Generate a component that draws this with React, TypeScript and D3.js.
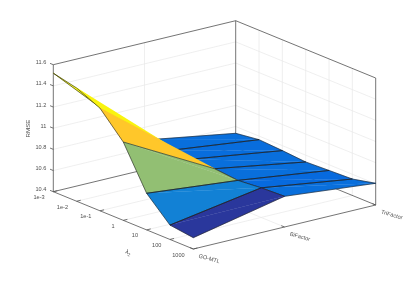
import React from 'react'
import * as d3 from 'd3'

const lambdas = ['1e-3', '1e-2', '1e-1', '1', '10', '100', '1000']
const methods = ['GO-MTL', 'BiFactor', 'TriFactor']
const zTicks = [10.4, 10.6, 10.8, 11, 11.2, 11.4, 11.6]

// RMSE per lambda, one list per method
const goMtl = [11.52, 11.47, 11.37, 11.14, 10.746, 10.536, 10.507]
const biFactor = [10.68, 10.67, 10.68, 10.68, 10.66, 10.68, 10.69]
const triFactor = [10.536, 10.566, 10.553, 10.536, 10.546, 10.555, 10.605]
const rmse = [goMtl, biFactor, triFactor]

const parula = ['#352a87', '#0363e1', '#1485d4', '#06a7c6', '#38b99e', '#92bf73', '#e0ba50', '#ffc62b', '#f9f20f', '#f9fb0e']
const parulaAt = [0, 0.125, 0.25, 0.375, 0.5, 0.625, 0.75, 0.85, 0.94, 1]

// orthographic box: each data axis moves the point along its own screen direction
const lamX = d3.scaleLinear().domain([0, 6]).range([53.3, 193.3])
const lamY = d3.scaleLinear().domain([0, 6]).range([191.7, 249])
const methX = d3.scaleLinear().domain([0, 2]).range([0, 182.4])
const methY = d3.scaleLinear().domain([0, 2]).range([0, -44])
const zY = d3.scaleLinear().domain([10.4, 11.6]).range([0, -127])

type P = [number, number]
const project = (l: number, m: number, z: number): P => [lamX(l) + methX(m), lamY(l) + methY(m) + zY(z)]

const [zMin, zMax] = d3.extent(rmse.flat()) as [number, number]
const color = d3.scaleLinear<string>()
  .domain(parulaAt.map(t => zMin + t * (zMax - zMin)))
  .range(parula)

const line = d3.line()
const path = (pts: P[]) => line(pts) as string

const gridColor = '#e8e8e8'
const boxColor = '#505050'
const edgeColor = '#1c1c1c'
const textColor = '#4d4d4d'
const font = '"Liberation Sans", Arial, sans-serif'

const lamIdx = d3.range(lambdas.length)
const methIdx = d3.range(methods.length)
const zLo = zTicks[0]
const zHi = zTicks[zTicks.length - 1]
const lastL = lambdas.length - 1
const lastM = methods.length - 1
const steepFacets = 3 // GO-MTL facets that fold over, their far edges stay hidden

const corners = (l: number, m: number): P[] => [
  project(l, m, rmse[m][l]),
  project(l + 1, m, rmse[m][l + 1]),
  project(l + 1, m + 1, rmse[m + 1][l + 1]),
  project(l, m + 1, rmse[m + 1][l]),
]

function Facet({ l, m }: { l: number; m: number }) {
  const [a, b, c, d] = corners(l, m)
  const fill = color(rmse[m][l])
  return (
    <g>
      <path d={path([a, b, c]) + 'Z'} fill={fill} stroke={fill} strokeWidth={0.3} />
      <path d={path([a, c, d]) + 'Z'} fill={fill} stroke={fill} strokeWidth={0.3} />
    </g>
  )
}

function Surface() {
  const flat = d3.range(lastL)
  const steep = d3.range(steepFacets)
  const rest = d3.range(steepFacets, lastL)
  return (
    <g>
      {flat.map(l => <Facet key={l} l={l} m={1} />)}
      {flat.map(l => (
        <path key={l} d={path(corners(l, 1)) + 'Z'} fill="none" stroke={edgeColor} strokeWidth={0.6} />
      ))}
      {steep.map(l => {
        const [a, b, c, d] = corners(l, 0)
        return (
          <g key={l}>
            <Facet l={l} m={0} />
            <path d={path(l === 0 ? [d, a, b] : [a, b])} fill="none" stroke={edgeColor} strokeWidth={0.6} />
          </g>
        )
      })}
      {rest.map(l => <Facet key={l} l={l} m={0} />)}
      {rest.map(l => (
        <path key={l} d={path(corners(l, 0)) + 'Z'} fill="none" stroke={edgeColor} strokeWidth={0.6} />
      ))}
    </g>
  )
}

export default function App() {
  return (
    <svg width={415} height={281} style={{ position: 'absolute', left: 0, top: 0, background: '#fff' }} fontFamily={font}>
      {/* grid */}
      <g stroke={gridColor} strokeWidth={0.7} fill="none">
        {zTicks.slice(1, -1).map(z => (
          <path key={z} d={path([project(0, 0, z), project(0, lastM, z), project(lastL, lastM, z)])} />
        ))}
        {lamIdx.slice(1, -1).map(l => (
          <path key={l} d={path([project(l, 0, zLo), project(l, lastM, zLo), project(l, lastM, zHi)])} />
        ))}
        {methIdx.slice(1, -1).map(m => (
          <path key={m} d={path([project(0, m, zHi), project(0, m, zLo), project(lastL, m, zLo)])} />
        ))}
      </g>

      {/* box */}
      <g stroke={boxColor} strokeWidth={0.8} fill="none">
        <path d={path([project(0, 0, zLo), project(0, 0, zHi), project(0, lastM, zHi), project(lastL, lastM, zHi), project(lastL, lastM, zLo)])} />
        <path d={path([project(0, lastM, zHi), project(0, lastM, zLo)])} />
        <path d={path([project(0, 0, zLo), project(lastL, 0, zLo), project(lastL, lastM, zLo)])} />
        <path d={path([project(0, 0, zLo), project(0, lastM, zLo), project(lastL, lastM, zLo)])} />
        {zTicks.map(z => (
          <path key={z} d={path([project(0, 0, z), project(-0.14, 0, z)])} />
        ))}
        {lamIdx.map(l => (
          <path key={l} d={path([project(l, 0, zLo), project(l, 0.045, zLo)])} />
        ))}
        {methIdx.map(m => (
          <path key={m} d={path([project(lastL, m, zLo), project(lastL - 0.14, m, zLo)])} />
        ))}
      </g>

      <Surface />

      {/* labels */}
      <g fontSize={5.6} fill={textColor} opacity={0.99}>
        {zTicks.map(z => {
          const [x, y] = project(0, 0, z)
          return <text key={z} x={x - 7} y={y - 2.4} dy="0.35em" textAnchor="end">{d3.format('~g')(z)}</text>
        })}
        {lambdas.map((t, l) => {
          const [x, y] = project(l, 0, zLo)
          return <text key={t} x={x - 8.6} y={y + 5.6} dy="0.35em" textAnchor="end">{t}</text>
        })}
        {methods.map((t, m) => {
          const [x, y] = project(lastL, m, zLo)
          return <text key={t} transform={`translate(${x + 5.5},${y + 6.5}) rotate(16)`} dy="0.35em">{t}</text>
        })}
        <text transform="translate(30,128.5) rotate(-90)" textAnchor="middle" fontSize={6.2}>RMSE</text>
        <text transform="translate(125,253) rotate(22)" fontSize={6.2}>λ<tspan fontSize={4.4} dy={1.6}>2</tspan></text>
      </g>
    </svg>
  )
}
